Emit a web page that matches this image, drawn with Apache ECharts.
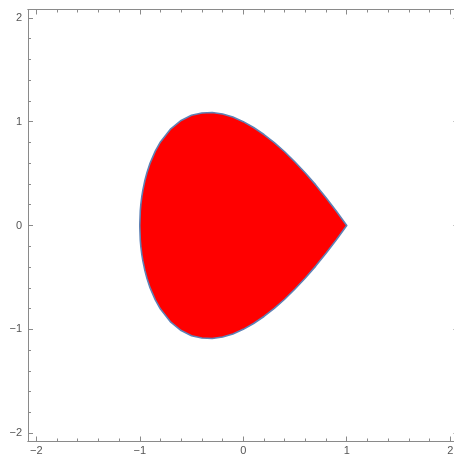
<!DOCTYPE html>
<html>
<head>
<meta charset="utf-8">
<script src="https://cdn.jsdelivr.net/npm/echarts@6/dist/echarts.min.js"></script>
<style>
  html, body { margin: 0; padding: 0; background: #fff; }
  #chart { width: 454px; height: 459px; }
</style>
</head>
<body>
<div id="chart"></div>
<script>
// Outline of the filled region, traced counter-clockwise from the corner at (1, 0)
const upperX = [1, 0.9, 0.8, 0.7, 0.6, 0.5, 0.4, 0.3, 0.2, 0.1, 0, -0.1, -0.2, -0.3, -0.4, -0.5, -0.6, -0.7, -0.8, -0.85, -0.9, -0.93, -0.95, -0.97, -0.98, -0.99, -0.995, -1];
const upperY = [0, 0.138, 0.268, 0.391, 0.506, 0.612, 0.710, 0.798, 0.876, 0.944, 1.0, 1.044, 1.073, 1.088, 1.084, 1.061, 1.012, 0.931, 0.805, 0.716, 0.601, 0.511, 0.436, 0.341, 0.280, 0.199, 0.141, 0];
const lowerX = [-0.995, -0.99, -0.98, -0.97, -0.95, -0.93, -0.9, -0.85, -0.8, -0.7, -0.6, -0.5, -0.4, -0.3, -0.2, -0.1, 0, 0.1, 0.2, 0.3, 0.4, 0.5, 0.6, 0.7, 0.8, 0.9];
const lowerY = [-0.141, -0.199, -0.280, -0.341, -0.436, -0.511, -0.601, -0.716, -0.805, -0.931, -1.012, -1.061, -1.084, -1.088, -1.073, -1.044, -1.0, -0.944, -0.876, -0.798, -0.710, -0.612, -0.506, -0.391, -0.268, -0.138];

// Frame ticks
const majorTicks = [-2, -1, 0, 1, 2];
const minorTicks = [-1.8, -1.6, -1.4, -1.2, -0.8, -0.6, -0.4, -0.2, 0.2, 0.4, 0.6, 0.8, 1.2, 1.4, 1.6, 1.8];
const axisMin = -2.08;
const axisMax = 2.08;

const outline = [];
upperX.forEach((x, i) => outline.push([x, upperY[i]]));
lowerX.forEach((x, i) => outline.push([x, lowerY[i]]));

const frameColor = '#8a8a8a';
const labelStyle = {
  color: '#555',
  fontSize: 11,
  fontFamily: 'Liberation Sans, Arial, sans-serif',
  formatter: v => String(v).replace('-', '\u2212')
};

function frameAxis(dim, position, gridIndex, ticks, len, labelled) {
  return {
    type: 'value',
    gridIndex,
    position,
    min: axisMin,
    max: axisMax,
    axisLine: { show: true, onZero: false, lineStyle: { color: frameColor, width: 1 } },
    axisTick: { show: true, inside: true, length: len, customValues: ticks, lineStyle: { color: frameColor, width: 1 } },
    axisLabel: labelled
      ? Object.assign({ show: true, customValues: ticks, margin: dim === 'x' ? 4 : 6 }, labelStyle)
      : { show: false },
    splitLine: { show: false }
  };
}

// The frame runs a few pixels past the right edge of the canvas
const gridBox = { left: 28, top: 9.5, width: 430.5, height: 432, containLabel: false, outerBoundsMode: 'none' };

const chart = echarts.init(document.getElementById('chart'), null, { renderer: 'canvas' });
chart.setOption({
  animation: false,
  backgroundColor: '#fff',
  grid: [Object.assign({}, gridBox), Object.assign({}, gridBox)],
  xAxis: [
    frameAxis('x', 'bottom', 0, majorTicks, 5, true),
    frameAxis('x', 'top', 0, majorTicks, 5, false),
    frameAxis('x', 'bottom', 1, minorTicks, 3, false),
    frameAxis('x', 'top', 1, minorTicks, 3, false)
  ],
  yAxis: [
    frameAxis('y', 'left', 0, majorTicks, 5, true),
    frameAxis('y', 'right', 0, majorTicks, 5, false),
    frameAxis('y', 'left', 1, minorTicks, 3, false),
    frameAxis('y', 'right', 1, minorTicks, 3, false)
  ],
  series: [{
    type: 'custom',
    xAxisIndex: 0,
    yAxisIndex: 0,
    data: outline,
    renderItem: function (params, api) {
      if (params.dataIndex !== 0) return null;
      const pts = outline.map(p => api.coord(p));
      return {
        type: 'polygon',
        shape: { points: pts },
        style: { fill: '#ff0000', stroke: '#5e81b5', lineWidth: 1.6, lineJoin: 'round' }
      };
    }
  }]
});
</script>
</body>
</html>
